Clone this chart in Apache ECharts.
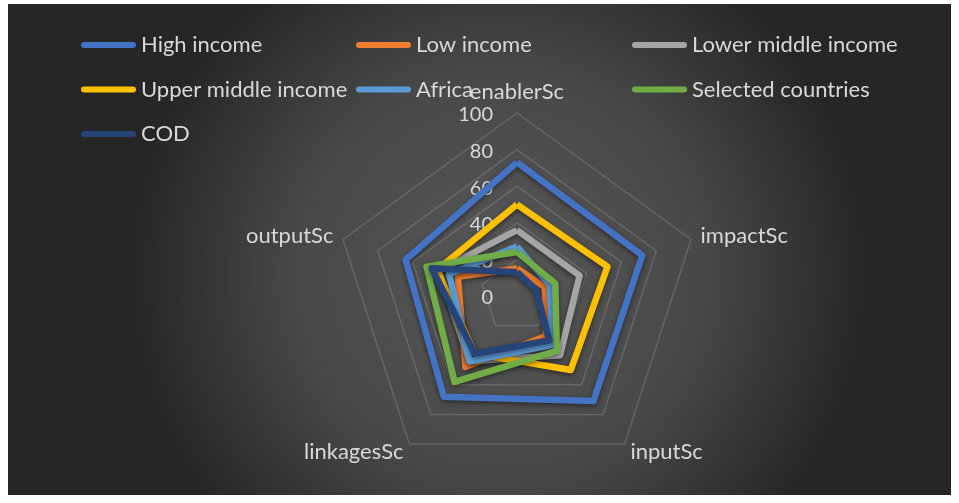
<!DOCTYPE html>
<html>
<head>
<meta charset="utf-8">
<script src="https://cdn.jsdelivr.net/npm/echarts@6/dist/echarts.min.js"></script>
<style>
  html, body { margin: 0; padding: 0; background: #ffffff; }
  #main { position: absolute; left: 8px; top: 4px; width: 943px; height: 491px; }
</style>
</head>
<body>
<div id="main"></div>
<script>
// radar axes, in drawing order (ECharts goes counterclockwise from the top)
var indicators = ['enablerSc', 'outputSc', 'linkagesSc', 'inputSc', 'impactSc'];
var tickMax = 100;

// scores per group, same order as indicators
var highIncome = [73, 64, 68, 71, 72];
var lowIncome = [15, 34, 48, 27, 16];
var lowerMiddleIncome = [36, 45, 44, 40, 36];
var upperMiddleIncome = [50, 46, 39, 50, 52];
var africa = [27, 39, 44, 33, 19];
var selectedCountries = [24, 52, 58, 37, 22];
var cod = [13, 49, 39, 30, 11];

var txt = '#d9d9d9';
var font = 'Lato';

var groups = [
    { name: 'High income', color: '#4472C4', data: highIncome },
    { name: 'Low income', color: '#ED7D31', data: lowIncome },
    { name: 'Lower middle income', color: '#A5A5A5', data: lowerMiddleIncome },
    { name: 'Upper middle income', color: '#FFC000', data: upperMiddleIncome },
    { name: 'Africa', color: '#5B9BD5', data: africa },
    { name: 'Selected countries', color: '#70AD47', data: selectedCountries },
    { name: 'COD', color: '#264478', data: cod }
];

var myChart = echarts.init(document.getElementById('main'));

function legendCol(left, names) {
    return {
        orient: 'vertical',
        left: left,
        top: 24,
        itemWidth: 55,
        itemHeight: 7,
        itemGap: 20.5,
        icon: 'path://M3,0L52,0A3,3,0,0,1,52,6L3,6A3,3,0,0,1,3,0Z',
        data: names,
        textStyle: { color: txt, fontSize: 22, fontFamily: font, lineHeight: 24 }
    };
}

var option = {
    backgroundColor: {
        type: 'radial', x: 0.52, y: 0.55, r: 0.75,
        colorStops: [
            { offset: 0, color: '#575757' },
            { offset: 0.55, color: '#484848' },
            { offset: 1, color: '#262626' }
        ]
    },
    legend: [
        legendCol(68, ['High income', 'Upper middle income', 'COD']),
        legendCol(343, ['Low income', 'Africa']),
        legendCol(619, ['Lower middle income', 'Selected countries'])
    ],
    radar: {
        center: [509, 292],
        radius: 183,
        startAngle: 90,
        splitNumber: 5,
        shape: 'polygon',
        nameGap: 10,
        indicator: indicators.map(function (n, i) {
            var ind = { name: n, min: 0, max: tickMax };
            if (i === 0) {
                ind.axisLabel = {
                    show: true, color: txt, fontSize: 20, fontFamily: font,
                    margin: 24, lineHeight: 26, verticalAlign: 'top', padding: [-11, 0, 0, 0]
                };
            }
            return ind;
        }),
        axisName: { color: txt, fontSize: 22, fontFamily: font },
        splitLine: { lineStyle: { color: 'rgba(255,255,255,0.14)', width: 1.5 } },
        splitArea: { show: false },
        axisLine: { show: false },
        axisTick: { show: false },
        axisLabel: { show: false }
    },
    series: groups.map(function (g) {
        return {
            name: g.name,
            type: 'radar',
            symbol: 'none',
            itemStyle: { color: g.color },
            lineStyle: {
                color: g.color, width: 6.5,
                shadowColor: 'rgba(0,0,0,0.45)', shadowBlur: 5, shadowOffsetY: 2
            },
            data: [{ name: g.name, value: g.data }]
        };
    })
};
myChart.setOption(option);
</script>
</body>
</html>
